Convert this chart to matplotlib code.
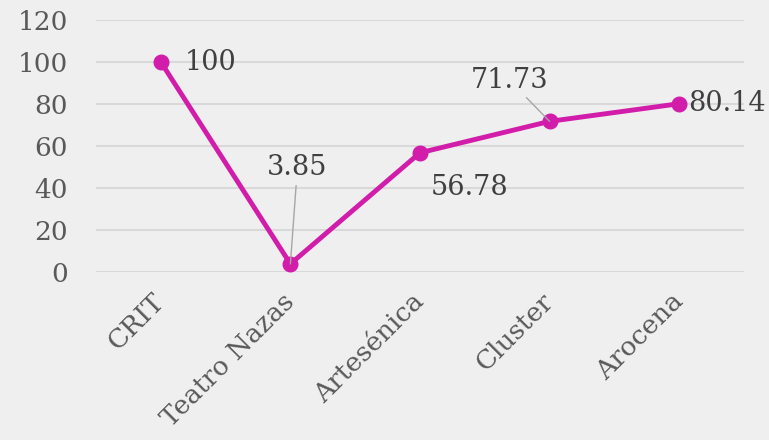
import matplotlib
matplotlib.use("Agg")
import matplotlib.pyplot as plt
from matplotlib.transforms import ScaledTranslation

# data
venues = ["CRIT", "Teatro Nazas", "Artesénica", "Cluster", "Arocena"]
scores = [100, 3.85, 56.78, 71.73, 80.14]
score_labels = ["100", "3.85", "56.78", "71.73", "80.14"]
yticks = [0, 20, 40, 60, 80, 100, 120]

bg = "#EFEFEF"
pink = "#D11DAA"
grid_c = "#D9D9D9"
tick_c = "#595959"
lab_c = "#404040"

plt.rcParams["font.family"] = ["DejaVu Serif"]

fig = plt.figure(figsize=(7.69, 4.4), dpi=100, facecolor=bg)
ax = fig.add_axes([96/769, 1-272/440, 648/769, 252/440], facecolor=bg)

x = list(range(len(venues)))
ax.plot(x, scores, color=pink, lw=3.5, marker="o", ms=10.5, zorder=3,
        solid_capstyle="round")

ax.set_xlim(-0.5, len(venues) - 0.5)
ax.set_ylim(0, 120)
ax.set_yticks(yticks)
ax.yaxis.grid(True, color=grid_c, lw=1.5)
ax.set_axisbelow(True)
for s in ax.spines.values():
    s.set_visible(False)
ax.tick_params(length=0, labelsize=19, colors=tick_c)
ax.tick_params(axis="y", pad=20)
ax.tick_params(axis="x", pad=12)
ax.set_xticks(x)
ax.set_xticklabels(venues, rotation=45, ha="right", va="top",
                   rotation_mode="anchor")
shift = ScaledTranslation(-9/100, 0, fig.dpi_scale_trans)
for t in ax.get_xticklabels():
    t.set_transform(t.get_transform() + shift)

# label offsets (pixels) from each point
offs = [(24, 0, "left"), (7, 96, "center"), (50, -35, "center"),
        (-40, 41, "center"), (9, 0, "left")]
leaders = [False, True, False, True, False]
for i, (dx, dy, ha) in enumerate(offs):
    kw = {}
    if leaders[i]:
        kw["arrowprops"] = dict(arrowstyle="-", color="#A6A6A6", lw=1,
                                shrinkA=1, shrinkB=0)
    ax.annotate(score_labels[i], (x[i], scores[i]), xytext=(dx, dy),
                textcoords="offset pixels", ha=ha, va="center",
                fontsize=19.5, color=lab_c, annotation_clip=False, **kw)

fig.savefig("out.png", dpi=100, facecolor=bg)
